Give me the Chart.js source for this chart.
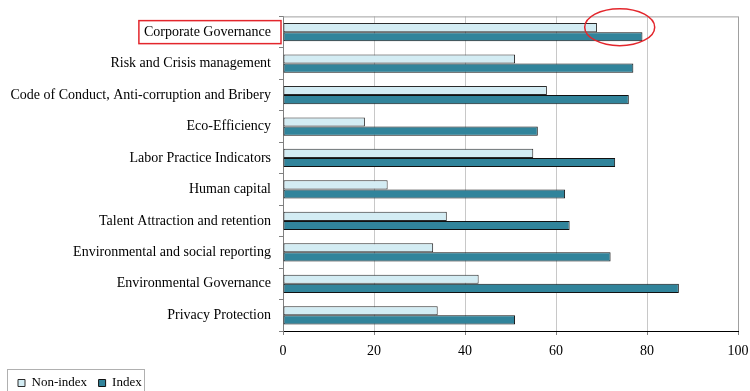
<!DOCTYPE html>
<html>
<head>
<meta charset="utf-8">
<script src="https://cdn.jsdelivr.net/npm/chart.js@4"></script>
<style>
  html, body { margin: 0; padding: 0; background: #fff; }
  #wrap { width: 750px; height: 391px; position: relative; }
</style>
</head>
<body>
<div id="wrap"><canvas id="chart"></canvas></div>
<script>
var categories = [
    'Corporate Governance',
    'Risk and Crisis management',
    'Code of Conduct, Anti-corruption and Bribery',
    'Eco-Efficiency',
    'Labor Practice Indicators',
    'Human capital',
    'Talent Attraction and retention',
    'Environmental and social reporting',
    'Environmental Governance',
    'Privacy Protection'
];
var nonIndex = [69, 51, 58, 18, 55, 23, 36, 33, 43, 34];
var index = [79, 77, 76, 56, 73, 62, 63, 72, 87, 51];
var xTicks = [0, 20, 40, 60, 80, 100];

var serif = "'Liberation Serif', 'Times New Roman', serif";
Chart.defaults.font.family = serif;
Chart.defaults.font.size = 14;
Chart.defaults.color = '#000';

// plot frame top line, legend border and the red highlight marks
var extras = {
    id: 'extras',
    afterDraw: function (chart) {
        var ctx = chart.ctx;
        var area = chart.chartArea;
        var x = chart.scales.x;
        var y = chart.scales.y;
        ctx.save();

        ctx.strokeStyle = '#a0a0a0';
        ctx.lineWidth = 1;
        ctx.beginPath();
        ctx.moveTo(area.left, area.top + 0.5);
        ctx.lineTo(area.right, area.top + 0.5);
        ctx.stroke();

        // legend frame
        ctx.strokeStyle = '#b0b0b0';
        ctx.strokeRect(7.5, 369.5, 137, 30);

        // red box round the first label
        ctx.font = '14px ' + serif;
        var w = ctx.measureText(categories[0]).width;
        var cy = y.getPixelForValue(0);
        var right = area.left - 7;
        ctx.strokeStyle = '#e3262c';
        ctx.lineWidth = 1.5;
        ctx.strokeRect(right - w - 10, cy - 11.5, w + 15, 23);

        // red ellipse round the first pair of bar ends
        ctx.beginPath();
        ctx.ellipse(x.getPixelForValue(74), cy - 5, 35, 18.5, 0, 0, Math.PI * 2);
        ctx.stroke();
        ctx.restore();
    }
};

var ctx = document.getElementById('chart').getContext('2d');
new Chart(ctx, {
    type: 'bar',
    data: {
        labels: categories,
        datasets: [
            {
                label: 'Non-index',
                data: nonIndex,
                backgroundColor: '#d3ecf3',
                borderColor: '#2b2b2b',
                borderWidth: 1,
                borderSkipped: false,
                categoryPercentage: 0.58,
                barPercentage: 1
            },
            {
                label: 'Index',
                data: index,
                backgroundColor: '#31849b',
                borderColor: '#111',
                borderWidth: 1,
                borderSkipped: false,
                categoryPercentage: 0.58,
                barPercentage: 1
            }
        ]
    },
    options: {
        indexAxis: 'y',
        responsive: true,
        maintainAspectRatio: false,
        animation: false,
        layout: { padding: { top: 14, right: 12, left: 6.5, bottom: -8.5 } },
        plugins: {
            tooltip: { enabled: false },
            legend: {
                position: 'bottom',
                align: 'start',
                labels: {
                    boxWidth: 7,
                    boxHeight: 7,
                    padding: 11.5,
                    color: '#000',
                    font: { family: serif, size: 13 }
                }
            }
        },
        scales: {
            x: {
                min: 0,
                max: 100,
                afterBuildTicks: function (scale) {
                    scale.ticks = xTicks.map(function (v) { return { value: v }; });
                },
                afterFit: function (scale) { scale.height = 34; },
                ticks: {
                    color: '#000',
                    padding: 0,
                    font: { family: serif, size: 14, lineHeight: 2.4 }
                },
                grid: {
                    color: function (c) { return c.tick && c.tick.value === 100 ? '#a0a0a0' : '#c8c8c8'; },
                    tickColor: '#808080',
                    tickLength: 4
                },
                border: { color: '#000', width: 1 }
            },
            y: {
                afterFit: function (scale) { scale.width = 276.5; },
                ticks: {
                    color: '#000',
                    padding: 8,
                    font: { family: serif, size: 14 }
                },
                grid: {
                    drawOnChartArea: false,
                    color: '#808080',
                    tickLength: 4
                },
                border: { color: '#808080', width: 1 }
            }
        }
    },
    plugins: [extras]
});
</script>
</body>
</html>
